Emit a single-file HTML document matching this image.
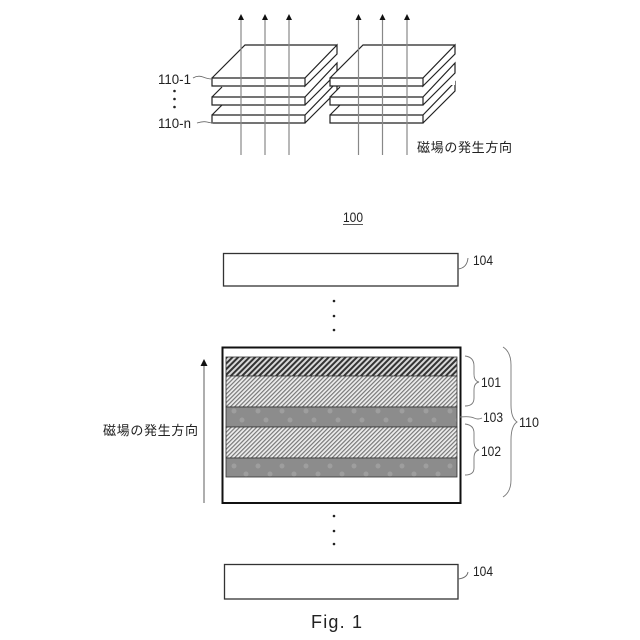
<!DOCTYPE html>
<html>
<head>
<meta charset="utf-8">
<style>
html,body{margin:0;padding:0;background:#fff;width:640px;height:640px;overflow:hidden}
svg{display:block}
text{font-family:"Liberation Sans","Noto Sans CJK JP",sans-serif;fill:#222}
</style>
</head>
<body>
<svg width="640" height="640" viewBox="0 0 640 640" xmlns="http://www.w3.org/2000/svg">
<defs>
<pattern id="dark" width="4" height="4" patternUnits="userSpaceOnUse" patternTransform="rotate(45)">
<rect width="4" height="4" fill="#d8d8d8"/><rect width="2" height="4" fill="#333"/>
</pattern>
<pattern id="light" width="3" height="3" patternUnits="userSpaceOnUse" patternTransform="rotate(45)">
<rect width="3" height="3" fill="#eee"/><rect width="1.2" height="3" fill="#777"/>
</pattern>
<pattern id="grayA" x="226" y="407" width="24" height="20" patternUnits="userSpaceOnUse">
<rect width="24" height="20" fill="#8c8c8c"/>
<circle cx="8" cy="4" r="2.500" fill="#9e9e9e"/><circle cx="16" cy="13" r="2.500" fill="#9e9e9e"/>
</pattern>
<pattern id="grayB" x="226" y="458" width="24" height="19" patternUnits="userSpaceOnUse">
<rect width="24" height="19" fill="#8c8c8c"/>
<circle cx="8" cy="8" r="2.500" fill="#9e9e9e"/><circle cx="20" cy="16" r="2.500" fill="#9e9e9e"/>
</pattern>
<g id="stack" fill="#fff" stroke="#222" stroke-width="1.200" stroke-linejoin="miter">
<path d="M12 59H125V46L93 78H0V70Z" stroke="none"/>
<path d="M0 70V78H93V70Z M93 78L125 46V37L93 70 M0 70L10 60"/>
<path d="M12 40H125V28L93 60H0V52Z" stroke="none"/>
<path d="M0 52V60H93V52Z M93 60L125 28V18L93 52 M0 52L10 42"/>
<path d="M0 33L33 0H125V9L93 41H0Z" stroke="none"/>
<path d="M0 33V41H93V33Z M93 41L125 9V0L93 33Z M0 33L33 0H125"/>
</g>
</defs>

<use href="#stack" x="212" y="45"/>
<use href="#stack" x="330" y="45"/>

<g stroke="#888" stroke-width="1.200" fill="none">
<path d="M241 155V20M265 155V20M289 155V20M358.500 155V20M382.500 155V20M407 155V20"/>
</g>
<g fill="#111">
<path d="M241 14L244 20H238Z"/><path d="M265 14L268 20H262Z"/><path d="M289 14L292 20H286Z"/>
<path d="M358.500 14L361.500 20H355.500Z"/><path d="M382.500 14L385.500 20H379.500Z"/><path d="M407 14L410 20H404Z"/>
</g>

<text x="158" y="84" font-size="14" textLength="33" lengthAdjust="spacingAndGlyphs">110-1</text>
<text x="158" y="128" font-size="14" textLength="33" lengthAdjust="spacingAndGlyphs">110-n</text>
<g fill="#222"><circle cx="174.500" cy="91" r="1.300"/><circle cx="174.500" cy="99" r="1.300"/><circle cx="174.500" cy="107" r="1.300"/></g>
<path d="M193 78Q198 75 203 77T212 79M197 123Q203 121 207 122T213 123" fill="none" stroke="#666" stroke-width="0.900"/>
<text x="417" y="152" font-size="13" textLength="95">磁場の発生方向</text>

<text x="343" y="222" font-size="14" textLength="20" lengthAdjust="spacingAndGlyphs">100</text>
<rect x="343" y="224" width="20" height="1" fill="#555"/>

<rect x="223.500" y="253.500" width="234.500" height="32.500" fill="#fff" stroke="#333" stroke-width="1.300"/>
<path d="M458 269Q467 268 468 258" fill="none" stroke="#666" stroke-width="0.900"/>
<text x="473" y="265" font-size="14" textLength="20" lengthAdjust="spacingAndGlyphs">104</text>
<g fill="#222"><circle cx="334" cy="301" r="1.300"/><circle cx="334" cy="316" r="1.300"/><circle cx="334" cy="330" r="1.300"/></g>

<rect x="222.500" y="347.500" width="238" height="155.500" fill="#fff" stroke="#111" stroke-width="2"/>
<rect x="226" y="357" width="231" height="19" fill="url(#dark)" stroke="#333" stroke-width="0.800"/>
<rect x="226" y="376" width="231" height="31" fill="url(#light)" stroke="#333" stroke-width="0.800"/>
<rect x="226" y="407" width="231" height="20" fill="url(#grayA)" stroke="#333" stroke-width="0.800"/>
<rect x="226" y="427" width="231" height="31" fill="url(#light)" stroke="#333" stroke-width="0.800"/>
<rect x="226" y="458" width="231" height="19" fill="url(#grayB)" stroke="#333" stroke-width="0.800"/>

<path d="M204 503V364" stroke="#999" stroke-width="1.600" fill="none"/>
<path d="M204 359L207.500 366H200.500Z" fill="#111"/>
<text x="103" y="435" font-size="13" textLength="95">磁場の発生方向</text>

<g fill="none" stroke="#777" stroke-width="0.900">
<path d="M465 356Q474 357 474 366V374Q474 381 479 382Q474 383 474 390V398Q474 406 465 406"/>
<path d="M465 424Q474 425 474 433V441Q474 449 479 450Q474 451 474 458V468Q474 475 465 475"/>
<path d="M503 347Q511 352 511 365V405Q511 418 517 422Q511 426 511 440V480Q511 492 503 497"/>
<path d="M460 417Q470 416 474 418T482 418"/>
</g>
<text x="481" y="387" font-size="14" textLength="20" lengthAdjust="spacingAndGlyphs">101</text>
<text x="483" y="422" font-size="14" textLength="20" lengthAdjust="spacingAndGlyphs">103</text>
<text x="481" y="456" font-size="14" textLength="20" lengthAdjust="spacingAndGlyphs">102</text>
<text x="519" y="427" font-size="14" textLength="20" lengthAdjust="spacingAndGlyphs">110</text>

<g fill="#222"><circle cx="334" cy="516" r="1.300"/><circle cx="334" cy="531" r="1.300"/><circle cx="334" cy="544" r="1.300"/></g>
<rect x="224.500" y="564.500" width="233.500" height="34.500" fill="#fff" stroke="#333" stroke-width="1.300"/>
<path d="M458 579Q467 578 468 572" fill="none" stroke="#666" stroke-width="0.900"/>
<text x="473" y="576" font-size="14" textLength="20" lengthAdjust="spacingAndGlyphs">104</text>

<text x="311" y="628" font-size="18" textLength="51">Fig. 1</text>
</svg>
</body>
</html>
